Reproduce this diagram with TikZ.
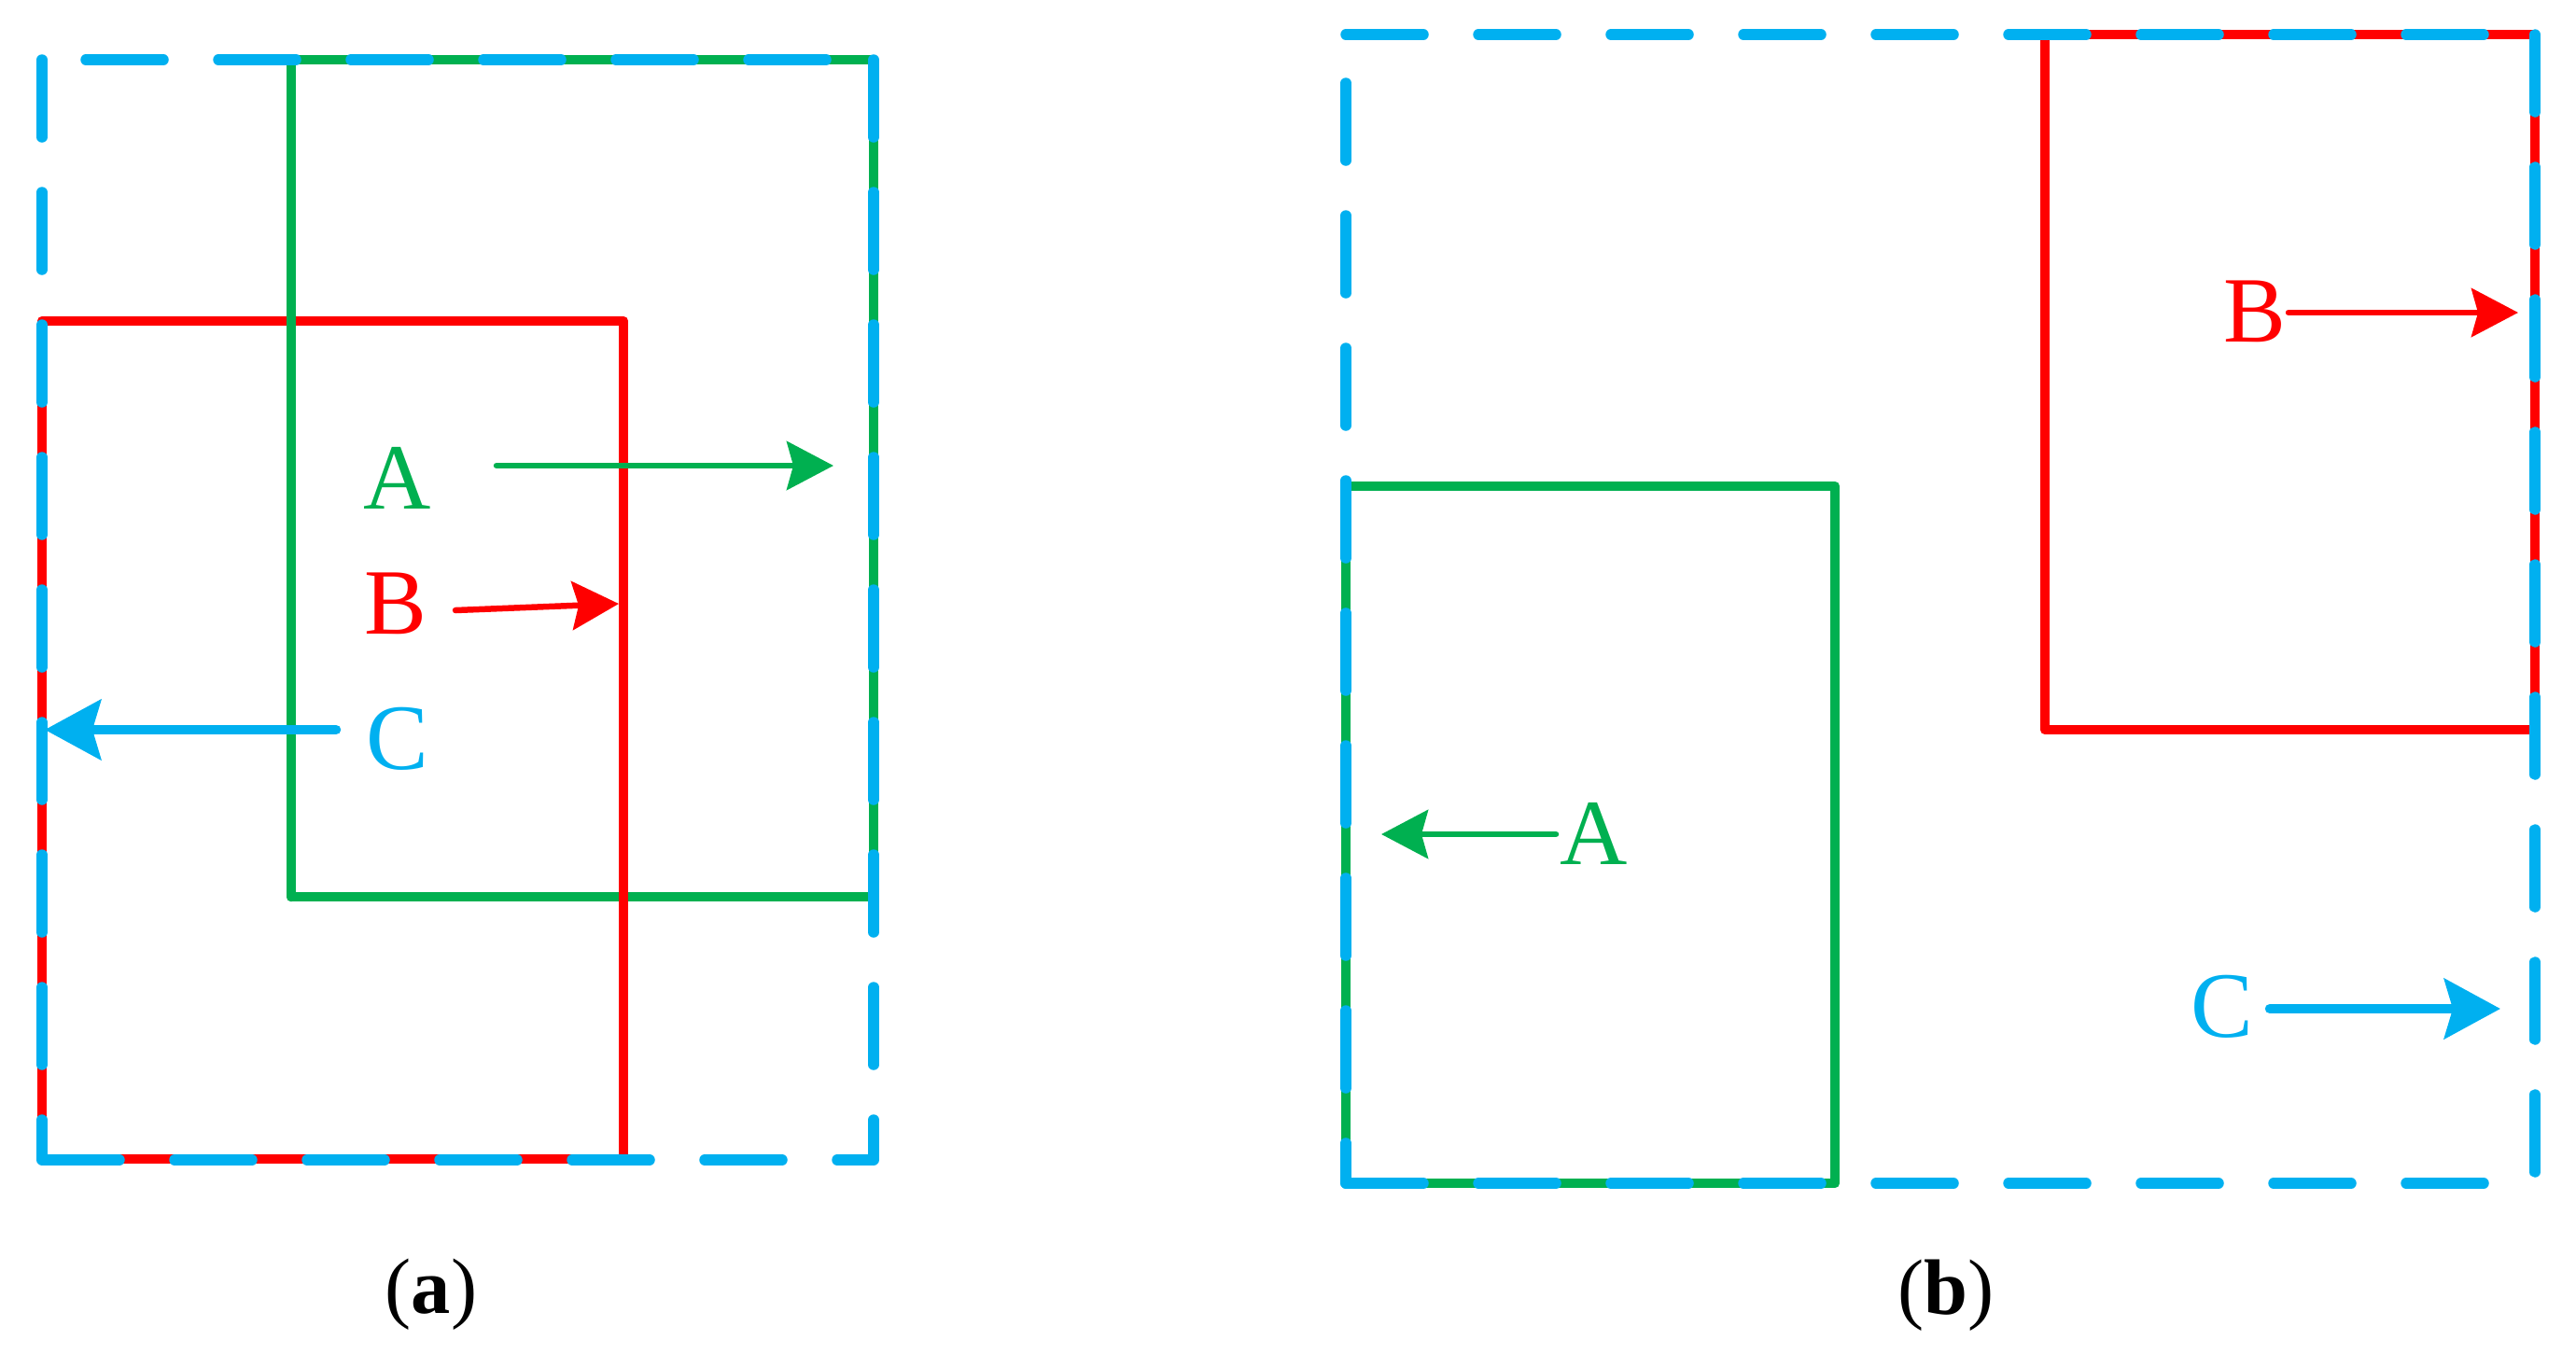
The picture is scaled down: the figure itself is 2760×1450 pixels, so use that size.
\documentclass[tikz,border=0pt]{standalone}
\usepackage{fontspec}
\setmainfont{Liberation Serif}
\usetikzlibrary{arrows.meta}

\definecolor{cblue}{HTML}{00B0F0}
\definecolor{cgreen}{HTML}{00B050}
\definecolor{cred}{HTML}{FF0000}

\tikzset{
  box/.style={line width=1.05mm, line join=round, line cap=round},
  dashbox/.style={line width=1.15mm, cblue, line cap=round, dash pattern=on 8.3mm off 5.9mm},
  lab/.style={inner sep=0pt, anchor=base, font=\fontsize{28.5}{31}\selectfont},
  subcap/.style={inner sep=0pt, anchor=base, font=\fontsize{24}{27}\selectfont},
  thinarrow/.style={-{Stealth[length=5mm, width=5.2mm, inset=0.7mm]}, line width=0.65mm, line cap=round},
  thickarrow/.style={-{Stealth[length=6mm, width=6.4mm, inset=0.9mm]}, line width=1.05mm, line cap=round}
}

\begin{document}
\begin{tikzpicture}[x=0.1mm, y=-0.1mm]
\useasboundingbox (0,0) rectangle (2760,1450);

% (a)
\draw[box, cgreen] (312,64) rectangle (936,961);
\draw[box, cred] (45,344) rectangle (668,1242);
\draw[box, cgreen] (312,64) -- (312,961);
\draw[dashbox] (936,64) -- (936,1243) (45,1243) -- (936,1243) (45,64) -- (45,1243);
\draw[dashbox, dash phase=9.1mm] (936,64) -- (45,64);

\node (aA) at (426,545) [lab, text=cgreen] {A};
\node (aB) at (424,679) [lab, text=cred] {B};
\node (aC) at (426,824) [lab, text=cblue] {C};

\coordinate (aAs) at (532,499);
\coordinate (aAe) at (893,499);
\coordinate (aBs) at (488,654);
\coordinate (aBe) at (663,647);
\coordinate (aCs) at (360,782);
\coordinate (aCe) at (48,782);

\draw[thinarrow, cgreen] (aAs) -- (aAe);
\draw[thinarrow, cred] (aBs) -- (aBe);
\draw[thickarrow, cblue] (aCs) -- (aCe);

\node (capa) at (462,1407) [subcap] {(\textbf{a})};

% (b)
\draw[box, cred] (2191,37) rectangle (2716,782);
\draw[box, cgreen] (1442,521) rectangle (1966,1268);
\draw[dashbox] (1442,37) -- (2716,37) (2716,37) -- (2716,1268) (1442,1268) -- (2716,1268);
\draw[dashbox, dash phase=9mm] (1442,37) -- (1442,1268);

\node (bA) at (1708,926) [lab, text=cgreen] {A};
\node (bB) at (2416,366) [lab, text=cred] {B};
\node (bC) at (2381,1111) [lab, text=cblue] {C};

\coordinate (bAs) at (1667,894);
\coordinate (bAe) at (1480,894);
\coordinate (bBs) at (2452,335);
\coordinate (bBe) at (2698,335);
\coordinate (bCs) at (2432,1081);
\coordinate (bCe) at (2679,1081);

\draw[thinarrow, cgreen] (bAs) -- (bAe);
\draw[thinarrow, cred] (bBs) -- (bBe);
\draw[thickarrow, cblue] (bCs) -- (bCe);

\node (capb) at (2085,1408) [subcap] {(\textbf{b})};
\end{tikzpicture}
\end{document}
